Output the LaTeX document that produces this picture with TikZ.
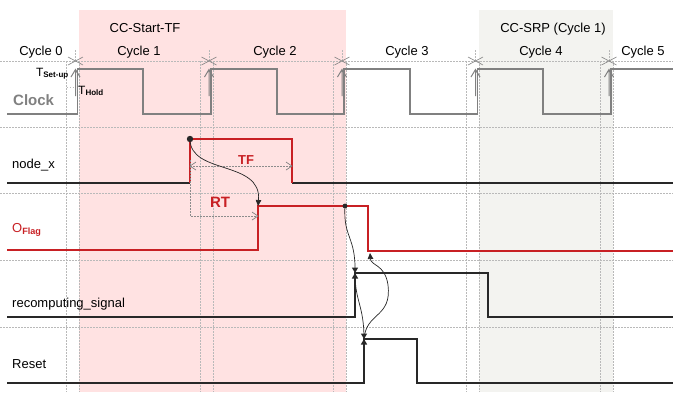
\documentclass[tikz,border=0pt]{standalone}
\usepackage{fontspec}
\setmainfont{Liberation Sans}
\usetikzlibrary{arrows.meta}
\definecolor{fondrose}{RGB}{255,226,226}
\definecolor{fondgris}{RGB}{243,243,240}
\definecolor{rougesig}{RGB}{200,32,36}
\definecolor{noirsig}{RGB}{40,40,40}
\definecolor{grishorloge}{RGB}{128,128,128}
\tikzset{pics/papillon/.style={code={\fill (-3.2,-5.5) -- (3.2,-5.5) -- (0,0) -- cycle (-3.2,5.5) -- (3.2,5.5) -- (0,0) -- cycle;}}}
\begin{document}
\begin{tikzpicture}[x=1pt, y=-1pt,
                    every node/.style={inner sep=0pt, anchor=base west, font=\fontsize{13}{15}\selectfont},
                    titre/.style={anchor=base},
                    grille/.style={gray!55, line width=0.5pt, dash pattern=on 1.5pt off 1.5pt},
                    horloge/.style={grishorloge, line width=1.4pt},
                    signal/.style={noirsig, line width=1.8pt},
                    signalr/.style={rougesig, line width=1.6pt},
                    fleche/.style={noirsig, line width=0.7pt, -{Triangle[length=6pt,width=5.5pt]}},
                    pointe/.style={gray, line width=0.7pt}
                ]
                \useasboundingbox (0,0) rectangle (673,392);
                \fill[fondrose] (79,10) rectangle (346,392);
                \fill[fondgris] (479,10) rectangle (613,392);

                % grille en pointilles
                \foreach \y in {61,127,193,260,327}
                    \draw[grille] (0,\y) -- (673,\y);
                \foreach \e in {75.5,209,342,475.5,609} {
                    \draw[grille] ({\e-9},61) -- ({\e-9},392) ({\e+4},61) -- ({\e+4},392) (\e,50) -- (\e,61);
                    \draw[gray, line width=0.6pt] ({\e-7.5},57) -- ({\e+7.5},65) ({\e-7.5},65) -- ({\e+7.5},57);
                }
                \draw[grille] (66.5,87) -- (75.5,87);

                \node[titre] (zone1) at (145,32) {CC-Start-TF};
                \node[titre] (zone2) at (553,32) {CC-SRP (Cycle 1)};
                \node[titre] (c0) at (41,55) {Cycle 0};
                \node[titre] (c1) at (139,55) {Cycle 1};
                \node[titre] (c2) at (275,55) {Cycle 2};
                \node[titre] (c3) at (407,55) {Cycle 3};
                \node[titre] (c4) at (541,55) {Cycle 4};
                \node[titre] (c5) at (643,55) {Cycle 5};

                \node[anchor=base east, font=\fontsize{12}{14}\selectfont] (tsu) at (69,76) {T\textsubscript{\bfseries Set-up}};
                \node[font=\fontsize{12}{14}\selectfont] (th) at (78,94) {T\textsubscript{\bfseries Hold}};

                \node[font=\fontsize{15}{17}\bfseries, text=grishorloge] (lclk) at (13,105) {Clock};
                \node (lnx) at (12,168) {node\_x};
                \node[text=rougesig] (lof) at (12,232) {O\textsubscript{\bfseries Flag}};
                \node (lrc) at (12,307) {recomputing\_signal};
                \node (lrs) at (12,368) {Reset};

                % signaux
                \draw[horloge] (7,114) -- (77.5,114) -- (77.5,69) -- (143,69) -- (143,114) -- (211,114) -- (211,69) -- (277,69) -- (277,114) -- (344,114) -- (344,69) -- (410,69) -- (410,114) -- (477.5,114) -- (477.5,69) -- (543,69) -- (543,114) -- (611,114) -- (611,69) -- (673,69);
                \foreach \e in {75.5,209,342,475.5,609}
                    \draw[grishorloge, line width=1pt] ({\e-4.5},77) -- (\e,69.5) -- ({\e+4.5},77) (\e,69.5) -- (\e,96);
                \draw[signal] (7,183) -- (190,183) (292,183) -- (673,183);
                \draw[signalr] (190,183) -- (190,139) -- (292,139) -- (292,183);
                \draw[signalr] (7,250) -- (258,250) -- (258,206) -- (368,206) -- (368,251) -- (673,251);
                \draw[signal] (7,317) -- (355,317) -- (355,273) -- (488,273) -- (488,317) -- (673,317);
                \draw[signal] (7,383) -- (364,383) -- (364,339) -- (417,339) -- (417,383) -- (673,383);

                \coordinate (nx) at (190,139);
                \coordinate (of) at (258,206);
                \coordinate (ofb) at (345,206);
                \coordinate (rc) at (355,273);
                \coordinate (rs) at (364,339);
                \coordinate (ofl) at (370,253);

                % cotes TF et RT
                \draw[grille, gray!90] (190,166) -- (292,166);
                \draw[pointe] (196,162) -- (190,166) -- (196,170) (286,162) -- (292,166) -- (286,170);
                \draw[grille, gray!90] (190,160) -- (190,216) -- (258,216);
                \draw[pointe] (252,212) -- (258,216) -- (252,220);
                \node[titre, font=\fontsize{13}{15}\bfseries, text=rougesig] (tf) at (246,164) {TF};
                \node[titre, font=\fontsize{15}{17}\bfseries, text=rougesig] (rt) at (220,207) {RT};

                % dependances
                \fill[noirsig] (nx) circle (3.2);
                \fill[noirsig] (ofb) circle (2.4);
                \draw[fleche] (nx) .. controls (190,175) and (262,160) .. (of);
                \draw[noirsig, line width=0.7pt] (ofb) .. controls (343,238) and (356,236) .. (rc);
                \draw[noirsig, line width=0.7pt] (rc) .. controls (355,302) and (364,305) .. (rs);
                \draw[fleche] (rs) .. controls (366,312) and (392,318) .. (388,285) .. controls (385,264) and (371,266) .. (ofl);
                \pic[noirsig] at (rc) {papillon};
                \pic[noirsig] at (rs) {papillon};
                \end{tikzpicture}
\end{document}
